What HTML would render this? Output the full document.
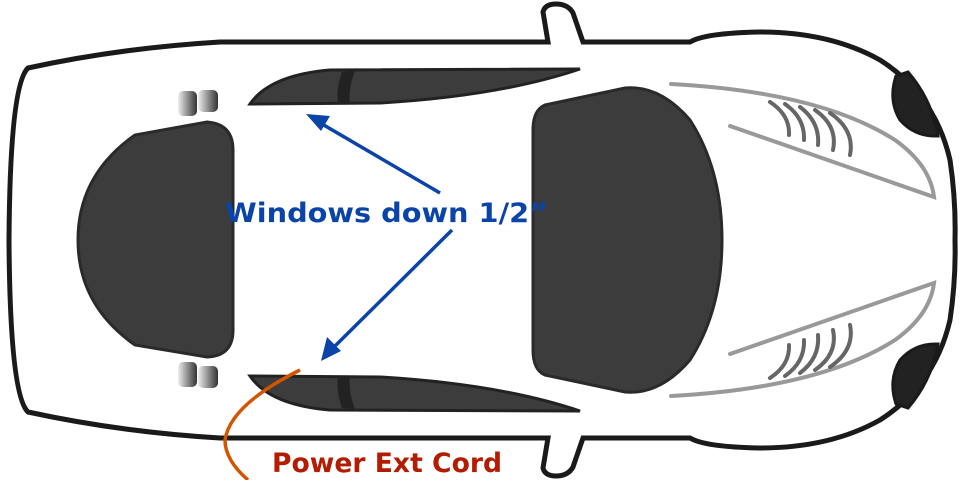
<!DOCTYPE html>
<html><head><style>html,body{margin:0;padding:0;background:#fff}svg{display:block}</style></head><body>
<svg width="960" height="480" viewBox="0 0 960 480" xmlns="http://www.w3.org/2000/svg">
<defs>
<linearGradient id="tl" x1="0" x2="1"><stop offset="0" stop-color="#eee"/><stop offset="1" stop-color="#333"/></linearGradient>
</defs>
<path d="M28,68 Q120,48 220,42 L548,42 L543,12 Q545,4 556,4 Q568,4 573,13 L583,42 L690,42 Q705,33 760,32 Q830,32 880,60 Q935,95 950,160 Q956,200 955,240 Q956,280 950,320 Q935,385 880,420 Q830,448 760,448 Q705,447 690,438 L583,438 L573,467 Q568,476 556,476 Q545,476 543,468 L548,438 L220,438 Q120,432 28,412 Q10,395 9,240 Q10,85 28,68 Z" fill="#fff" stroke="#1a1a1a" stroke-width="5"/>
<path d="M896,76 Q888,100 900,120 Q915,137 938,136 Q932,100 908,72 Z" fill="#222" stroke="#1a1a1a" stroke-width="3"/>
<path d="M896,404 Q888,380 900,360 Q915,343 938,344 Q932,380 908,408 Z" fill="#222" stroke="#1a1a1a" stroke-width="3"/>
<path d="M545,105 L625,88 Q660,85 690,120 Q722,170 722,240 Q722,310 690,360 Q660,395 625,392 L545,375 Q533,370 533,350 L533,130 Q533,110 545,105 Z" fill="#3c3c3c" stroke="#2a2a2a" stroke-width="3"/>
<path d="M207,122 Q233,124 233,150 L233,330 Q233,356 207,357 L135,345 Q78,305 78,240 Q78,175 135,135 Z" fill="#3c3c3c" stroke="#2a2a2a" stroke-width="3"/>
<path d="M250,104 Q270,75 330,70 L580,69 Q500,96 380,103 Z" fill="#3c3c3c" stroke="#222" stroke-width="3"/>
<path d="M342,72 L355,71 Q348,88 350,104 L338,104 Q336,88 342,72 Z" fill="#222"/>
<path d="M250,376 Q270,405 330,410 L580,411 Q500,384 380,377 Z" fill="#3c3c3c" stroke="#222" stroke-width="3"/>
<path d="M342,408 L355,409 Q348,392 350,376 L338,376 Q336,392 342,408 Z" fill="#222"/>
<rect x="178" y="91" width="19" height="25" rx="5" fill="url(#tl)"/>
<rect x="198" y="90" width="20" height="22" rx="5" fill="url(#tl)"/>
<rect x="178" y="362" width="19" height="25" rx="5" fill="url(#tl)"/>
<rect x="198" y="366" width="20" height="22" rx="5" fill="url(#tl)"/>
<g fill="none" stroke="#999" stroke-width="4" stroke-linecap="round">
<path d="M671,84 Q820,92 895,140 Q930,165 934,197 L730,126"/>
<path d="M671,396 Q820,388 895,340 Q930,315 934,283 L730,354"/>
</g>
<g fill="none" stroke="#666" stroke-width="4" stroke-linecap="round">
<path d="M770,102 Q790,115 789,135"/><path d="M785,104 Q805,118 804,140"/><path d="M800,107 Q820,122 818,145"/><path d="M815,110 Q838,126 833,150"/><path d="M830,113 Q855,130 850,155"/>
<path d="M770,378 Q790,365 789,345"/><path d="M785,376 Q805,362 804,340"/><path d="M800,373 Q820,358 818,335"/><path d="M815,370 Q838,354 833,330"/><path d="M830,367 Q855,350 850,325"/>
</g>
<g stroke="#0a44a8" stroke-width="3.5" fill="#0a44a8">
<line x1="440" y1="193" x2="322" y2="124"/>
<polygon points="306,114 330,116 321,131" stroke="none"/>
<line x1="452" y1="230" x2="333" y2="348"/>
<polygon points="321,361 327,337 341,351" stroke="none"/>
</g>
<text x="225" y="222" textLength="323" lengthAdjust="spacingAndGlyphs" font-family="'DejaVu Sans','Liberation Sans',sans-serif" font-weight="bold" font-size="27" fill="#0a44a8">Windows down 1/2”</text>
<path d="M300,370 Q230,405 225,440 Q225,460 248,480" fill="none" stroke="#d45500" stroke-width="3.5"/>
<text x="272" y="472" textLength="230" lengthAdjust="spacingAndGlyphs" font-family="'DejaVu Sans','Liberation Sans',sans-serif" font-weight="bold" font-size="27" fill="#b31c00">Power Ext Cord</text>
</svg>
</body></html>
